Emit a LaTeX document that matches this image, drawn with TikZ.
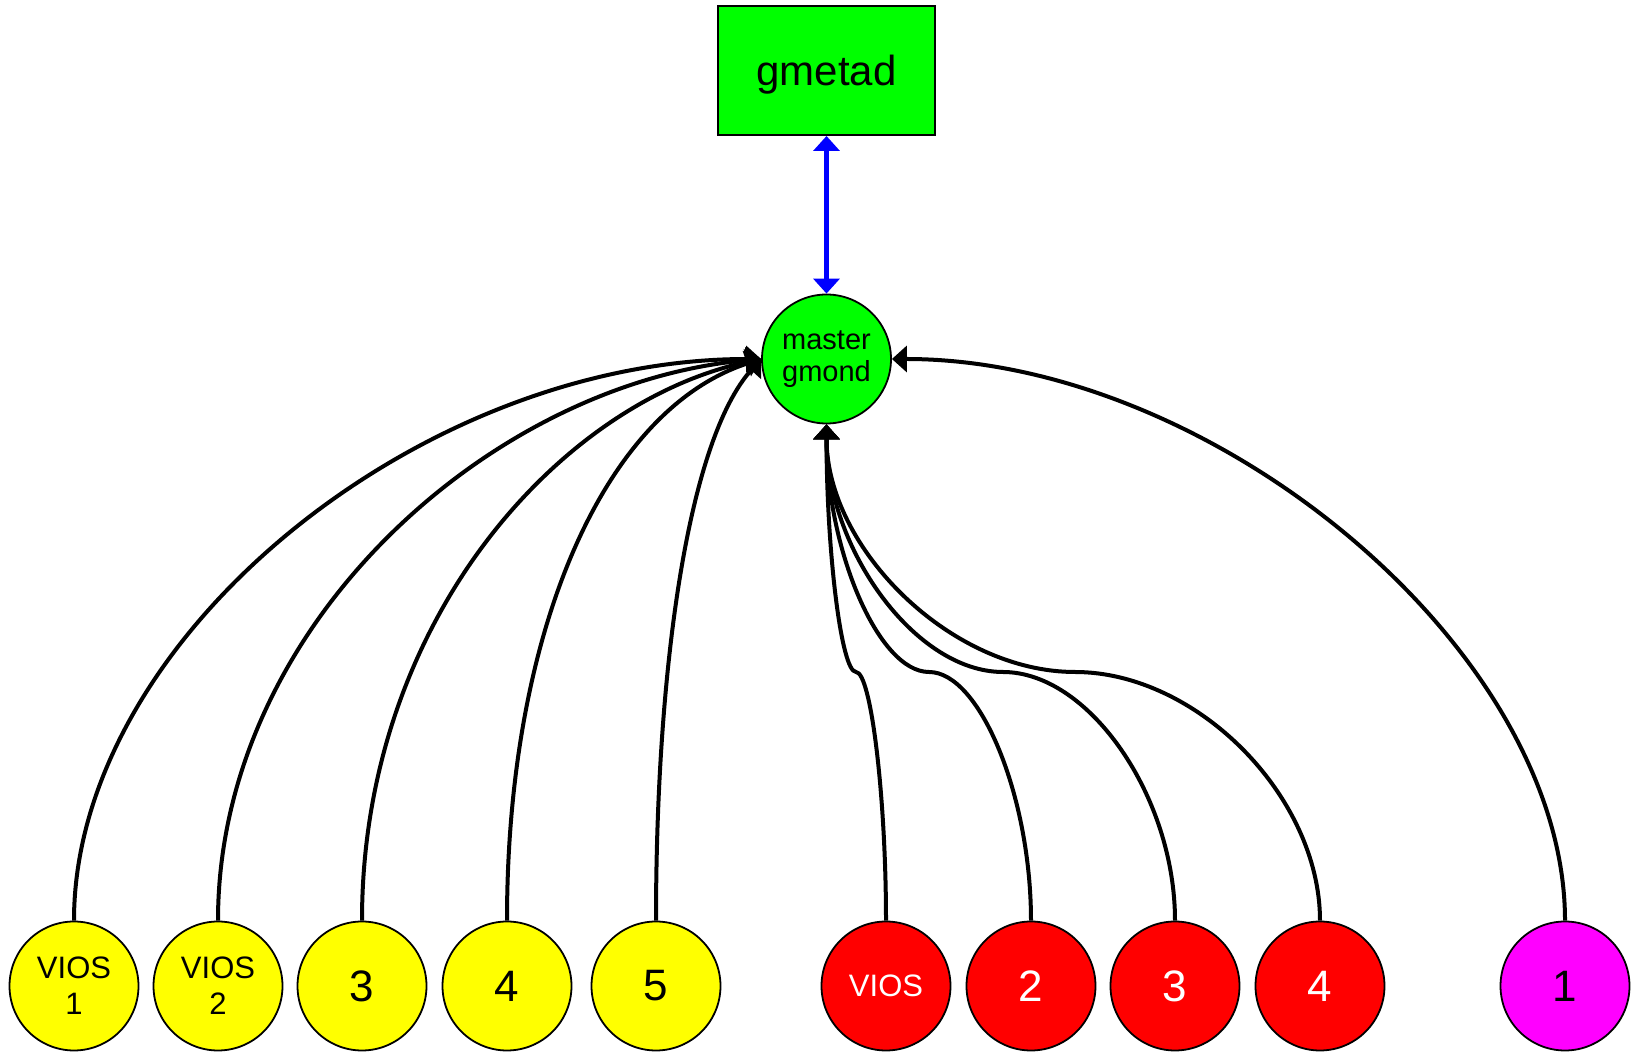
\documentclass[tikz,border=0pt]{standalone}
\usepackage{fontspec}
\setmainfont{Liberation Sans}
\usetikzlibrary{arrows.meta}
\definecolor{GmondGreen}{HTML}{00FF00}
\definecolor{LparYellow}{HTML}{FFFF00}
\definecolor{LparRed}{HTML}{FF0000}
\definecolor{LparMagenta}{HTML}{FF00FF}
\definecolor{LinkBlue}{HTML}{0000FF}

\begin{document}
\begin{tikzpicture}[x=1pt, y=1pt,
        lpar/.style={draw, circle, line width=1.8pt, minimum size=129pt, inner sep=0pt, align=center, font=\fontsize{31}{36}\selectfont},
        big/.style={font=\fontsize{44}{50}\selectfont},
        feed/.style={-{Triangle[width=26pt,length=15pt]}, line width=4pt},
    ]
    \useasboundingbox (0,0) rectangle (1633,1052);

    \node [draw, fill=GmondGreen, rectangle, line width=2pt, minimum width=217pt, minimum height=129pt, text depth=0pt, font=\fontsize{42}{50}\selectfont] (gmetad) at (826.5,981.5) {gmetad};
    \node [draw, fill=GmondGreen, circle, line width=1.8pt, minimum size=129pt, inner sep=0pt, align=center, font=\fontsize{29}{32}\selectfont] (gmond) at (826.5,693) {master\\gmond};

    \draw [{Triangle[width=26pt,length=15pt]}-{Triangle[width=26pt,length=15pt]}, LinkBlue, line width=4.7pt] (gmetad) -- (gmond);

    % first frame
    \node [lpar, fill=LparYellow] (y1) at (74,66) {VIOS\\1};
    \node [lpar, fill=LparYellow, right of=y1, node distance=144pt] (y2) {VIOS\\2};
    \node [lpar, fill=LparYellow, big, right of=y2, node distance=144pt] (y3) {3};
    \node [lpar, fill=LparYellow, big, right of=y3, node distance=145pt] (y4) {4};
    \node [lpar, fill=LparYellow, big, right of=y4, node distance=149pt] (y5) {5};

    % second frame
    \node [lpar, fill=LparRed, text=white, right of=y5, node distance=230pt] (r1) {VIOS};
    \node [lpar, fill=LparRed, text=white, big, right of=r1, node distance=145pt] (r2) {2};
    \node [lpar, fill=LparRed, text=white, big, right of=r2, node distance=144pt] (r3) {3};
    \node [lpar, fill=LparRed, text=white, big, right of=r3, node distance=145pt] (r4) {4};

    \node [lpar, fill=LparMagenta, big, right of=r4, node distance=245pt] (m1) {1};

    \draw [feed] (y1) to [out=90, in=180, out distance=281pt, in distance=343pt] (gmond.west);
    \draw [feed] (y2) to [out=90, in=185, out distance=295pt, in distance=271pt] (gmond.west);
    \draw [feed] (y3) to [out=90, in=192, out distance=300pt, in distance=205pt] (gmond.west);
    \draw [feed] (y4) to [out=90, in=198, out distance=290pt, in distance=165pt] (gmond.west);
    \draw [feed] (y5) to [out=90, in=228, out distance=250pt, in distance=110pt] (gmond.west);

    \coordinate (w1) at (856,380);
    \coordinate (w2) at (929,380);
    \coordinate (w3) at (1003,380);
    \coordinate (w4) at (1075,380);
    \draw [feed] (r1) to [out=90, in=0, out distance=124pt, in distance=15pt] (w1)
        to [out=180, in=-90, out distance=15pt, in distance=124pt] (gmond);
    \draw [feed] (r2) to [out=90, in=0, out distance=124pt, in distance=51pt] (w2)
        to [out=180, in=-90, out distance=51pt, in distance=124pt] (gmond);
    \draw [feed] (r3) to [out=90, in=0, out distance=124pt, in distance=86pt] (w3)
        to [out=180, in=-90, out distance=88pt, in distance=124pt] (gmond);
    \draw [feed] (r4) to [out=90, in=0, out distance=124pt, in distance=122pt] (w4)
        to [out=180, in=-90, out distance=124pt, in distance=124pt] (gmond);

    \draw [feed] (m1) to [out=90, in=0, out distance=270pt, in distance=323pt] (gmond);
\end{tikzpicture}
\end{document}
